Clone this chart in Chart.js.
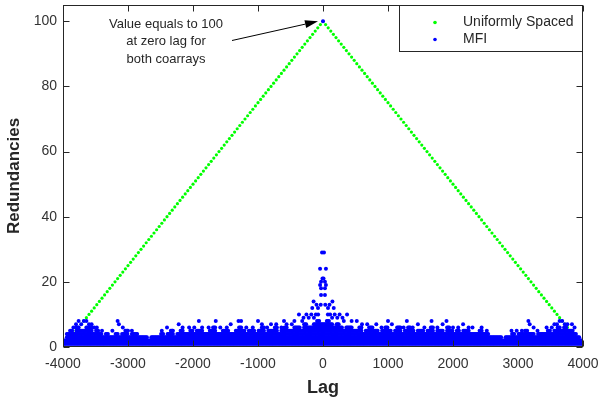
<!DOCTYPE html>
<html>
<head>
<meta charset="utf-8">
<script src="https://cdn.jsdelivr.net/npm/chart.js@4.4.1/dist/chart.umd.min.js"></script>
<style>
  body { margin: 0; background: #fff; }
  canvas { display: block; }
</style>
</head>
<body>
<canvas id="grafico" width="600" height="402"></canvas>
<script>
// ticks dos eixos
const lagTicks = [-4000, -3000, -2000, -1000, 0, 1000, 2000, 3000, 4000];
const redTicks = [0, 20, 40, 60, 80, 100];

// coarray uniforme (lag, redundancia)
const uniformLag = [
  -3960, -3920, -3880, -3840, -3800, -3760, -3720, -3680, -3640, -3600,
  -3560, -3520, -3480, -3440, -3400, -3360, -3320, -3280, -3240, -3200,
  -3160, -3120, -3080, -3040, -3000, -2960, -2920, -2880, -2840, -2800,
  -2760, -2720, -2680, -2640, -2600, -2560, -2520, -2480, -2440, -2400,
  -2360, -2320, -2280, -2240, -2200, -2160, -2120, -2080, -2040, -2000,
  -1960, -1920, -1880, -1840, -1800, -1760, -1720, -1680, -1640, -1600,
  -1560, -1520, -1480, -1440, -1400, -1360, -1320, -1280, -1240, -1200,
  -1160, -1120, -1080, -1040, -1000, -960, -920, -880, -840, -800,
  -760, -720, -680, -640, -600, -560, -520, -480, -440, -400,
  -360, -320, -280, -240, -200, -160, -120, -80, -40, 0,
  40, 80, 120, 160, 200, 240, 280, 320, 360, 400,
  440, 480, 520, 560, 600, 640, 680, 720, 760, 800,
  840, 880, 920, 960, 1000, 1040, 1080, 1120, 1160, 1200,
  1240, 1280, 1320, 1360, 1400, 1440, 1480, 1520, 1560, 1600,
  1640, 1680, 1720, 1760, 1800, 1840, 1880, 1920, 1960, 2000,
  2040, 2080, 2120, 2160, 2200, 2240, 2280, 2320, 2360, 2400,
  2440, 2480, 2520, 2560, 2600, 2640, 2680, 2720, 2760, 2800,
  2840, 2880, 2920, 2960, 3000, 3040, 3080, 3120, 3160, 3200,
  3240, 3280, 3320, 3360, 3400, 3440, 3480, 3520, 3560, 3600,
  3640, 3680, 3720, 3760, 3800, 3840, 3880, 3920, 3960
];
const uniformRed = [
  1, 2, 3, 4, 5, 6, 7, 8, 9, 10,
  11, 12, 13, 14, 15, 16, 17, 18, 19, 20,
  21, 22, 23, 24, 25, 26, 27, 28, 29, 30,
  31, 32, 33, 34, 35, 36, 37, 38, 39, 40,
  41, 42, 43, 44, 45, 46, 47, 48, 49, 50,
  51, 52, 53, 54, 55, 56, 57, 58, 59, 60,
  61, 62, 63, 64, 65, 66, 67, 68, 69, 70,
  71, 72, 73, 74, 75, 76, 77, 78, 79, 80,
  81, 82, 83, 84, 85, 86, 87, 88, 89, 90,
  91, 92, 93, 94, 95, 96, 97, 98, 99, 100,
  99, 98, 97, 96, 95, 94, 93, 92, 91, 90,
  89, 88, 87, 86, 85, 84, 83, 82, 81, 80,
  79, 78, 77, 76, 75, 74, 73, 72, 71, 70,
  69, 68, 67, 66, 65, 64, 63, 62, 61, 60,
  59, 58, 57, 56, 55, 54, 53, 52, 51, 50,
  49, 48, 47, 46, 45, 44, 43, 42, 41, 40,
  39, 38, 37, 36, 35, 34, 33, 32, 31, 30,
  29, 28, 27, 26, 25, 24, 23, 22, 21, 20,
  19, 18, 17, 16, 15, 14, 13, 12, 11, 10,
  9, 8, 7, 6, 5, 4, 3, 2, 1
];

// MFI: topo da faixa densa por bloco de 50 lags (centro do bloco)
const mfiBinLag = [
  -3975, -3925, -3875, -3825, -3775, -3725, -3675, -3625, -3575, -3525,
  -3475, -3425, -3375, -3325, -3275, -3225, -3175, -3125, -3075, -3025,
  -2975, -2925, -2875, -2825, -2775, -2725, -2675, -2625, -2575, -2525,
  -2475, -2425, -2375, -2325, -2275, -2225, -2175, -2125, -2075, -2025,
  -1975, -1925, -1875, -1825, -1775, -1725, -1675, -1625, -1575, -1525,
  -1475, -1425, -1375, -1325, -1275, -1225, -1175, -1125, -1075, -1025,
  -975, -925, -875, -825, -775, -725, -675, -625, -575, -525,
  -475, -425, -375, -325, -275, -225, -175, -125, -75, -25,
  25, 75, 125, 175, 225, 275, 325, 375, 425, 475,
  525, 575, 625, 675, 725, 775, 825, 875, 925, 975,
  1025, 1075, 1125, 1175, 1225, 1275, 1325, 1375, 1425, 1475,
  1525, 1575, 1625, 1675, 1725, 1775, 1825, 1875, 1925, 1975,
  2025, 2075, 2125, 2175, 2225, 2275, 2325, 2375, 2425, 2475,
  2525, 2575, 2625, 2675, 2725, 2775, 2825, 2875, 2925, 2975,
  3025, 3075, 3125, 3175, 3225, 3275, 3325, 3375, 3425, 3475,
  3525, 3575, 3625, 3675, 3725, 3775, 3825, 3875, 3925, 3975
];
const mfiBandTop = [
  2, 4, 5, 4, 6, 5, 5, 6, 6, 4,
  5, 4, 3, 4, 3, 3, 4, 3, 4, 5,
  3, 4, 4, 3, 3, 3, 2, 3, 3, 3,
  4, 3, 4, 5, 3, 4, 5, 4, 4, 5,
  4, 5, 5, 4, 4, 5, 6, 4, 4, 5,
  5, 4, 4, 5, 6, 5, 4, 5, 5, 4,
  5, 6, 4, 5, 5, 6, 4, 5, 6, 5,
  5, 6, 6, 5, 7, 6, 6, 7, 8, 7,
  7, 8, 7, 6, 7, 6, 5, 6, 6, 5,
  5, 6, 4, 5, 6, 5, 5, 4, 5, 6,
  5, 4, 5, 6, 4, 5, 6, 5, 4, 5,
  5, 4, 5, 6, 4, 5, 5, 4, 6, 5,
  4, 5, 4, 5, 5, 4, 4, 4, 5, 4,
  4, 3, 3, 3, 3, 2, 3, 3, 4, 3,
  4, 4, 5, 4, 4, 3, 4, 4, 4, 5,
  4, 5, 6, 5, 6, 5, 5, 4, 3, 2
];

// MFI: pontos isolados acima da faixa (pico em lag 0)
const mfiPeakLag = [
  -3840, -3800, -3760, -3720, -3680, -3640, -3600, -3560, -3520, -3480,
  -3400, -3240, -3160, -3140, -3080, -3000, -2940, -2480, -2400, -2320,
  -2220, -2160, -2060, -1980, -1910, -1860, -1760, -1650, -1580, -1480,
  -1420, -1300, -1260, -1180, -1080, -1000, -940, -860, -800, -720,
  -640, -600, -560, -480, -440,
  -370, -320, -300, -255, -220, -180, -165, -145, -140, -110,
  -100, -77, -75, -45, -45, -35, -30, -30, -30, -15,
  -8, 0, 8, 15, 30, 30, 30, 35, 45, 45,
  75, 77, 100, 110, 140, 145, 165, 180, 220, 255,
  300, 320, 370,
  440, 520, 600, 680, 760, 820, 900, 1000, 1060, 1140,
  1240, 1290, 1380, 1460, 1560, 1670, 1760, 1840, 1900, 2000,
  2080, 2155, 2240, 2300, 2440, 2520, 2900, 2980, 3060, 3160,
  3180, 3240, 3300, 3440, 3520, 3560, 3600, 3640, 3680, 3720,
  3760, 3830, 3870
];
const mfiPeakRed = [
  6, 7, 8, 7, 8, 8, 7, 7, 6, 6,
  5, 5, 8, 7, 6, 5, 5, 5, 6, 5,
  7, 6, 6, 6, 8, 6, 6, 8, 6, 6,
  7, 8, 8, 6, 6, 8, 7, 6, 7, 7,
  6, 8, 7, 7, 8,
  10, 8, 9, 10, 9, 10, 12, 14, 9, 10,
  13, 12, 10, 24, 19, 13, 20, 18, 16, 29,
  21, 100, 21, 29, 16, 18, 20, 13, 19, 24,
  10, 12, 13, 10, 9, 14, 12, 10, 9, 10,
  9, 8, 10,
  8, 8, 7, 7, 6, 7, 6, 8, 7, 6,
  6, 8, 6, 7, 6, 8, 6, 7, 8, 6,
  6, 7, 6, 6, 6, 5, 5, 5, 5, 8,
  7, 6, 5, 6, 6, 7, 7, 8, 8, 7,
  7, 7, 6
];

const fonte = "'Liberation Sans', Arial, Helvetica, sans-serif";
const corTexto = '#262626';

function montarUniforme() {
  return uniformLag.map((lag, i) => ({ x: lag, y: uniformRed[i] }));
}

// cada bloco vira uma coluna de pontos inteiros 1..topo
function montarMFI() {
  let pontos = [];
  mfiBinLag.forEach((centro, i) => {
    for (let d = -16; d <= 16; d += 16) {
      for (let r = 1; r <= mfiBandTop[i]; r++) {
        pontos.push({ x: centro + d, y: r });
      }
    }
  });
  mfiPeakLag.forEach((lag, i) => pontos.push({ x: lag, y: mfiPeakRed[i] }));
  return pontos;
}

// moldura estilo MATLAB, legenda e anotacao
const moldura = {
  id: 'moldura',
  afterDraw(chart) {
    const ctx = chart.ctx;
    const a = chart.chartArea;
    const sx = chart.scales.x;
    const sy = chart.scales.y;
    const L = Math.round(a.left) + 0.5, R = Math.round(a.right) - 0.5;
    const T = Math.round(a.top) + 0.5, B = Math.round(a.bottom) - 0.5;
    ctx.save();
    ctx.strokeStyle = corTexto;
    ctx.lineWidth = 1;
    ctx.strokeRect(L, T, R - L, B - T);
    ctx.beginPath();
    lagTicks.forEach(v => {
      const px = Math.round(sx.getPixelForValue(v)) + 0.5;
      ctx.moveTo(px, B); ctx.lineTo(px, B - 6);
      ctx.moveTo(px, T); ctx.lineTo(px, T + 6);
    });
    redTicks.forEach(v => {
      const py = Math.round(sy.getPixelForValue(v)) + 0.5;
      ctx.moveTo(L, py); ctx.lineTo(L + 6, py);
      ctx.moveTo(R, py); ctx.lineTo(R - 6, py);
    });
    ctx.stroke();

    // legenda
    const lx = 399.5, ly = T, lw = R - 399.5, lh = 46;
    ctx.fillStyle = '#fff';
    ctx.fillRect(lx, ly, lw, lh);
    ctx.strokeRect(lx, ly, lw, lh);
    ctx.font = '14px ' + fonte;
    ctx.textBaseline = 'middle';
    ctx.textAlign = 'left';
    chart.data.datasets.forEach((ds, i) => {
      const yy = 22.5 + i * 17;
      ctx.fillStyle = ds.pointBackgroundColor;
      ctx.beginPath();
      ctx.arc(435, yy, 1.8, 0, Math.PI * 2);
      ctx.fill();
      ctx.fillStyle = corTexto;
      ctx.fillText(ds.label, 463, yy);
    });

    // anotacao
    ctx.font = '13px ' + fonte;
    ctx.textAlign = 'center';
    ctx.fillStyle = corTexto;
    ['Value equals to 100', 'at zero lag for', 'both coarrays'].forEach((t, i) => {
      ctx.fillText(t, 166, 24.5 + i * 17.3);
    });
    const x0 = 232, y0 = 40.5;
    const x1 = sx.getPixelForValue(0) - 5, y1 = sy.getPixelForValue(100);
    const ang = Math.atan2(y1 - y0, x1 - x0);
    const hl = 13, hw = 4;
    const bx = x1 - hl * Math.cos(ang), by = y1 - hl * Math.sin(ang);
    ctx.strokeStyle = '#000';
    ctx.beginPath();
    ctx.moveTo(x0, y0); ctx.lineTo(bx, by);
    ctx.stroke();
    ctx.fillStyle = '#000';
    ctx.beginPath();
    ctx.moveTo(x1, y1);
    ctx.lineTo(bx + hw * Math.sin(ang), by - hw * Math.cos(ang));
    ctx.lineTo(bx - hw * Math.sin(ang), by + hw * Math.cos(ang));
    ctx.closePath();
    ctx.fill();
    ctx.restore();
  }
};

function gerarGrafico() {
  const config = {
    type: 'scatter',
    data: {
      datasets: [{
        label: 'Uniformly Spaced',
        data: montarUniforme(),
        pointBackgroundColor: '#00ff00',
        backgroundColor: '#00ff00',
        pointBorderWidth: 0,
        borderWidth: 0,
        pointRadius: 1.6,
        order: 1
      }, {
        label: 'MFI',
        data: montarMFI(),
        pointBackgroundColor: '#0000ff',
        backgroundColor: '#0000ff',
        pointBorderWidth: 0,
        borderWidth: 0,
        pointRadius: 2,
        order: 0
      }]
    },
    options: {
      responsive: false,
      animation: false,
      events: [],
      layout: { padding: { top: 5, right: 17, left: 0, bottom: 0 } },
      plugins: { legend: { display: false }, tooltip: { enabled: false } },
      scales: {
        x: {
          type: 'linear',
          min: -4000,
          max: 4000,
          afterBuildTicks: s => { s.ticks = lagTicks.map(v => ({ value: v })); },
          afterFit: s => { s.height = 55; s.paddingLeft = 0; s.paddingRight = 0; },
          grid: { display: false, drawTicks: false },
          border: { display: false },
          ticks: {
            color: '#333',
            font: { family: fonte, size: 14 },
            padding: 9,
            maxRotation: 0,
            autoSkip: false,
            callback: v => String(v)
          },
          title: {
            display: true,
            text: 'Lag',
            color: corTexto,
            font: { family: fonte, size: 18, weight: 'bold' },
            padding: { top: 0, bottom: 3 }
          }
        },
        y: {
          type: 'linear',
          min: 0,
          max: 105,
          afterBuildTicks: s => { s.ticks = redTicks.map(v => ({ value: v })); },
          afterFit: s => { s.width = 63; s.paddingTop = 0; s.paddingBottom = 0; },
          grid: { display: false, drawTicks: false },
          border: { display: false },
          ticks: {
            color: '#333',
            font: { family: fonte, size: 14 },
            padding: 6,
            autoSkip: false,
            callback: v => String(v)
          },
          title: {
            display: true,
            text: 'Redundancies',
            color: corTexto,
            font: { family: fonte, size: 17, weight: 'bold' },
            padding: { top: 4, bottom: 0 }
          }
        }
      }
    },
    plugins: [moldura]
  };

  const ctx = document.getElementById('grafico').getContext('2d');
  window.meuGrafico = new Chart(ctx, config);
}

gerarGrafico();
</script>
</body>
</html>
